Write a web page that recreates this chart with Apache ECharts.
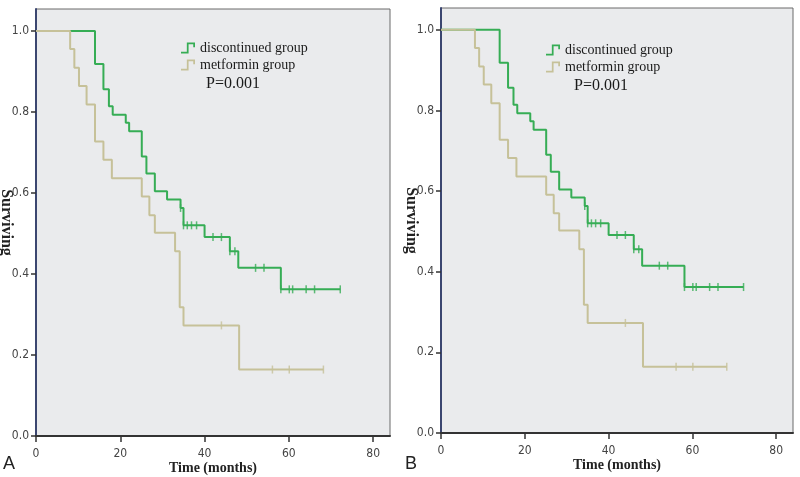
<!DOCTYPE html>
<html>
<head>
    <meta charset="UTF-8">
    <title>Survival curves</title>
    <script src="https://cdn.jsdelivr.net/npm/echarts/dist/echarts.min.js"></script>
</head>
<body style="margin:0;background:#fff;">
    <div id="chart" style="width: 800px;height:477px;"></div>
    <script type="text/javascript">
        var myChart = echarts.init(document.getElementById('chart'));

        // Kaplan-Meier steps (time in months, survival)
        var discTimes = [0, 14, 16, 17.3, 18.2, 21.3, 22.1, 25.1, 26.2, 28.2, 31.1, 34.3, 35, 40, 46, 48, 58.1, 72.2];
        var discSurv = [1, 0.918, 0.856, 0.814, 0.793, 0.773, 0.752, 0.690, 0.648, 0.604, 0.584, 0.563, 0.520, 0.491, 0.456, 0.415, 0.362, 0.362];
        var metTimes = [0, 8.1, 9.1, 10.2, 12, 14, 16, 18, 25.1, 26.9, 28.2, 33, 34.1, 35, 48.2, 68.2];
        var metSurv = [1, 0.955, 0.909, 0.864, 0.818, 0.727, 0.682, 0.636, 0.591, 0.545, 0.502, 0.456, 0.318, 0.273, 0.164, 0.164];

        // censored observations
        var discCensorT = [34.3, 35, 35.9, 36.9, 38.1, 42, 44, 46, 47.2, 52.1, 54.1, 58.1, 60.1, 60.9, 64.1, 66.1, 72.2];
        var discCensorS = [0.563, 0.520, 0.520, 0.520, 0.520, 0.491, 0.491, 0.456, 0.456, 0.415, 0.415, 0.362, 0.362, 0.362, 0.362, 0.362, 0.362];
        var metCensorT = [44, 56.1, 60.1, 68.2];
        var metCensorS = [0.273, 0.164, 0.164, 0.164];

        var xTicks = [0, 20, 40, 60, 80];
        var yTicks = [0, 0.2, 0.4, 0.6, 0.8, 1.0];
        var groupNames = ['discontinued group', 'metformin group'];
        var pText = 'P=0.001';

        var green = '#36ad55';
        var tan = '#c6c199';
        var narrow = "'Liberation Sans Narrow', 'DejaVu Sans Condensed', sans-serif";
        var serif = "'Liberation Serif', 'DejaVu Serif', serif";

        function zip(a, b) {
            return a.map(function (v, i) { return [v, b[i]]; });
        }

        // legend icon: a small step line
        var stepIcon = 'path://M0,9 L5,9 L5,1 L12,1 L12,5 L10.5,5 L10.5,2.5 L6.5,2.5 L6.5,10.5 L0,10.5 Z';

        var grids = [
            { left: 36, top: 9, width: 354, height: 427 },
            { left: 441, top: 8, width: 352, height: 425 }
        ];

        var xAxes = [], yAxes = [], series = [], legends = [];
        grids.forEach(function (g, i) {
            g.show = true;
            g.outerBoundsMode = 'none';
            g.containLabel = false;
            g.backgroundColor = '#eaebed';
            g.borderColor = '#6a6a6a';
            g.borderWidth = 1;
            xAxes.push({
                gridIndex: i,
                type: 'value',
                min: 0,
                max: 84,
                name: 'Time (months)',
                nameLocation: 'middle',
                nameGap: 25,
                nameMoveOverlap: false,
                nameTextStyle: { fontFamily: serif, fontWeight: 'bold', fontSize: 14, color: '#222' },
                axisLine: { show: true, lineStyle: { color: '#333', width: 2 } },
                axisTick: { show: true, length: 6, customValues: xTicks, lineStyle: { color: '#333', width: 1.5 } },
                axisLabel: { customValues: xTicks, margin: 12, fontFamily: narrow, fontSize: 12, color: '#444' },
                splitLine: { show: false }
            });
            yAxes.push({
                gridIndex: i,
                type: 'value',
                min: 0,
                max: 1.054,
                name: 'Surviving',
                nameLocation: 'middle',
                nameRotate: -90,
                nameGap: 22,
                nameMoveOverlap: false,
                nameTextStyle: { fontFamily: serif, fontWeight: 'bold', fontSize: 16, color: '#222' },
                axisLine: { show: true, lineStyle: { color: '#3b4670', width: 2 } },
                axisTick: { show: true, length: 5, customValues: yTicks, lineStyle: { color: '#333', width: 1.5 } },
                axisLabel: {
                    customValues: yTicks, margin: 7, fontFamily: narrow, fontSize: 12, color: '#444',
                    formatter: function (v) { return v.toFixed(1); }
                },
                splitLine: { show: false }
            });
            series.push({
                name: groupNames[0], type: 'line', step: 'end', xAxisIndex: i, yAxisIndex: i,
                data: zip(discTimes, discSurv), showSymbol: false,
                itemStyle: { color: green }, lineStyle: { color: green, width: 2 }
            });
            series.push({
                name: 'censored-d' + i, type: 'scatter', xAxisIndex: i, yAxisIndex: i,
                data: zip(discCensorT, discCensorS), symbol: 'rect', symbolSize: [1.5, 8],
                itemStyle: { color: green }
            });
            series.push({
                name: groupNames[1], type: 'line', step: 'end', xAxisIndex: i, yAxisIndex: i,
                data: zip(metTimes, metSurv), showSymbol: false,
                itemStyle: { color: tan }, lineStyle: { color: tan, width: 2 }
            });
            series.push({
                name: 'censored-m' + i, type: 'scatter', xAxisIndex: i, yAxisIndex: i,
                data: zip(metCensorT, metCensorS), symbol: 'rect', symbolSize: [1.5, 8],
                itemStyle: { color: tan }
            });
            legends.push({
                data: groupNames,
                orient: 'vertical',
                left: i === 0 ? 181 : 546,
                top: i === 0 ? 41 : 43,
                icon: stepIcon,
                itemWidth: 14,
                itemHeight: 12,
                itemGap: 3,
                padding: 0,
                selectedMode: false,
                textStyle: { fontFamily: serif, fontSize: 14, color: '#1a1a1a' }
            });
        });

        var option = {
            animation: false,
            backgroundColor: '#fff',
            grid: grids,
            xAxis: xAxes,
            yAxis: yAxes,
            legend: legends,
            series: series,
            graphic: [
                { type: 'text', left: 206, top: 76, style: { text: pText, font: '16px ' + serif, fill: '#1a1a1a' } },
                { type: 'text', left: 574, top: 78, style: { text: pText, font: '16px ' + serif, fill: '#1a1a1a' } },
                { type: 'text', left: 3, top: 455, style: { text: 'A', font: '18px Arial, "Liberation Sans", sans-serif', fill: '#222' } },
                { type: 'text', left: 405, top: 455, style: { text: 'B', font: '18px Arial, "Liberation Sans", sans-serif', fill: '#222' } }
            ]
        };

        myChart.setOption(option);
    </script>
</body>
</html>
